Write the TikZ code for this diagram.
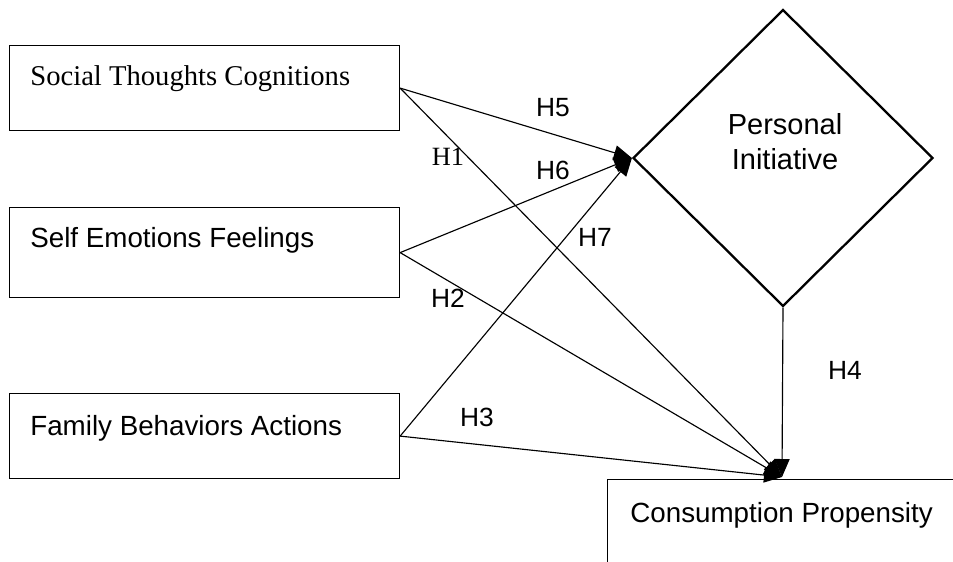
\documentclass[tikz,border=0pt]{standalone}
\usepackage{fontspec}
\setmainfont{Liberation Sans}
\newfontfamily\serifface{Liberation Serif}
\usetikzlibrary{shapes.geometric,arrows.meta}
\tikzset{
  varbox/.style={draw,rectangle,line width=0.7pt,inner sep=0pt,minimum width=7.8cm,minimum height=1.7cm,anchor=north west},
  boxtext/.style={font=\fontsize{15.8}{19}\selectfont,anchor=base west,inner sep=0pt},
  link/.style={line width=0.65pt,-{Triangle[length=0.36cm,width=0.3cm]}},
  hlab/.style={font=\fontsize{15}{18}\selectfont,inner sep=0pt},
}
\begin{document}
\begin{tikzpicture}[x=0.02cm,y=-0.02cm]
    \useasboundingbox (0,0) rectangle (953,561);
    \clip (0,0) rectangle (953,561);
    %% left boxes
    \node[varbox] (soc) at (9,45) {};
    \node[boxtext,font=\serifface\fontsize{16.3}{19}\selectfont] (soctxt) at (30,85) {Social Thoughts Cognitions};
    \node[varbox,minimum height=1.8cm] (self) at (9,207) {};
    \node[boxtext] (selftxt) at (30,247) {Self Emotions Feelings};
    \node[varbox] (fam) at (9,393) {};
    \node[boxtext] (famtxt) at (30,435) {Family Behaviors Actions};
    %% mediator
    \node[draw,diamond,line width=1.3pt,inner sep=0pt,minimum width=6cm,minimum height=5.94cm] (pi) at (783,158) {};
    \node[align=center,font=\fontsize{16.5}{20}\selectfont,inner sep=0pt] (pitxt) at (785,142) {Personal\\Initiative};
    %% outcome, cut off by the page
    \node[varbox,minimum width=8cm,minimum height=3cm] (cons) at (607,479) {};
    \node[boxtext] (constxt) at (630,522) {Consumption Propensity};
    \coordinate (tip) at (782,477);
    %% paths
    \draw[link] (soc.east) -- (pi.west);
    \draw[link] (self.east) -- (pi.west);
    \draw[link] (fam.east) -- (pi.west);
    \draw[link] (soc.east) -- (tip);
    \draw[link] (self.east) -- (tip);
    \draw[link] (fam.east) -- (tip);
    \draw[link] (pi.south) -- (tip);
    %% hypotheses
    \node[hlab] (h5) at (553,108) {H5};
    \node[hlab,font=\serifface\fontsize{15}{18}\selectfont] (h1) at (448,157) {H1};
    \node[hlab] (h6) at (553,170) {H6};
    \node[hlab] (h7) at (595,237) {H7};
    \node[hlab] (h2) at (448,298) {H2};
    \node[hlab] (h3) at (477,417) {H3};
    \node[hlab] (h4) at (845,370) {H4};
\end{tikzpicture}
\end{document}
